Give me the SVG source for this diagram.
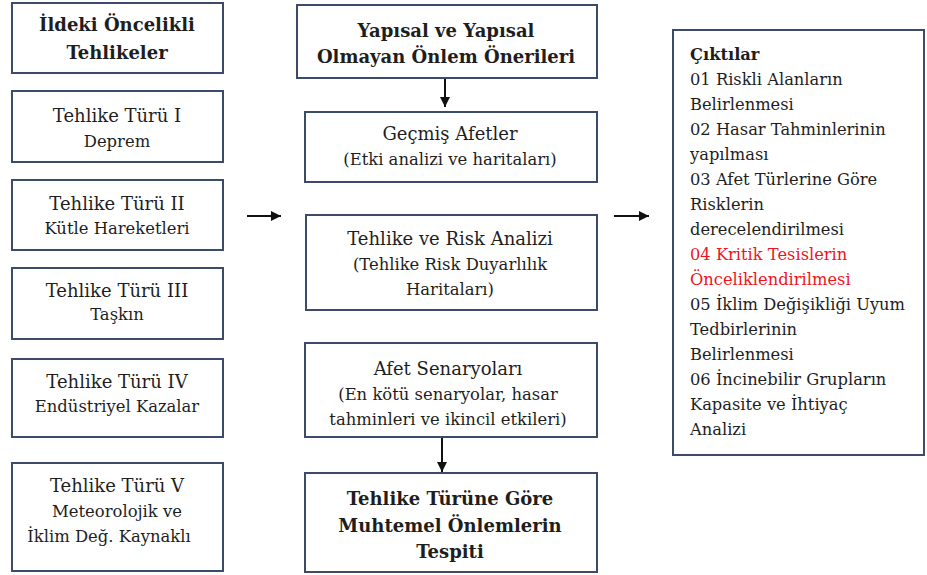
<svg xmlns="http://www.w3.org/2000/svg" width="927" height="575" viewBox="0 0 927 575">
<style>
.box{fill:#fff;stroke:#3d4b6b;stroke-width:2}
text{font-family:"DejaVu Serif","Liberation Serif",serif;fill:#1e1e1e;text-anchor:middle}
.t{font-size:18px}
.s{font-size:16.4px}
.b{font-size:18px;font-weight:bold}
.r{text-anchor:start;font-size:16.3px}
.red{fill:#f0141e}
.c{stroke:#111;stroke-width:2;fill:none}
</style>
<defs>
<marker id="ah" viewBox="0 0 10 10" refX="10" refY="5" markerWidth="5" markerHeight="5" orient="auto" markerUnits="strokeWidth">
<path d="M0,0 L10,5 L0,10 z" fill="#111"/>
</marker>
</defs>
<rect width="927" height="575" fill="#fff"/>
<g id="n_ildeki"><rect class="box" x="12" y="3" width="211" height="70"/>
<text class="b" x="117" y="31">İldeki Öncelikli</text><text class="b" x="117" y="59">Tehlikeler</text></g>
<g id="n_t1"><rect class="box" x="12" y="91" width="211" height="71"/>
<text class="t" x="117" y="122">Tehlike Türü I</text><text class="s" x="117" y="147">Deprem</text></g>
<g id="n_t2"><rect class="box" x="12" y="180" width="211" height="70"/>
<text class="t" x="117" y="210">Tehlike Türü II</text><text class="s" x="117" y="234">Kütle Hareketleri</text></g>
<g id="n_t3"><rect class="box" x="12" y="268" width="211" height="71"/>
<text class="t" x="117" y="297">Tehlike Türü III</text><text class="s" x="117" y="320">Taşkın</text></g>
<g id="n_t4"><rect class="box" x="12" y="359" width="211" height="78"/>
<text class="t" x="117" y="388">Tehlike Türü IV</text><text class="s" x="117" y="412">Endüstriyel Kazalar</text></g>
<g id="n_t5"><rect class="box" x="12" y="463" width="211" height="108"/>
<text class="t" x="117" y="492">Tehlike Türü V</text><text class="s" x="117" y="517">Meteorolojik ve</text><text class="s" x="109" y="542">İklim Değ. Kaynaklı</text></g>

<g id="n_yapisal"><rect class="box" x="297" y="5" width="300" height="73"/>
<text class="b" x="446" y="37">Yapısal ve Yapısal</text><text class="b" x="446" y="63">Olmayan Önlem Önerileri</text></g>
<g id="n_gecmis"><rect class="box" x="305" y="112" width="292" height="70"/>
<text class="t" x="450" y="140">Geçmiş Afetler</text><text class="s" x="450" y="165">(Etki analizi ve haritaları)</text></g>
<g id="n_risk"><rect class="box" x="306" y="215" width="291" height="95"/>
<text class="t" x="450" y="245">Tehlike ve Risk Analizi</text><text class="s" x="450" y="270">(Tehlike Risk Duyarlılık</text><text class="s" x="450" y="295">Haritaları)</text></g>
<g id="n_senaryo"><rect class="box" x="305" y="343" width="292" height="94"/>
<text class="t" x="448" y="375">Afet Senaryoları</text><text class="s" x="448" y="400">(En kötü senaryolar, hasar</text><text class="s" x="448" y="425">tahminleri ve ikincil etkileri)</text></g>
<g id="n_tespit"><rect class="box" x="305" y="473" width="292" height="99"/>
<text class="b" x="450" y="505">Tehlike Türüne Göre</text><text class="b" x="450" y="532">Muhtemel Önlemlerin</text><text class="b" x="450" y="558">Tespiti</text></g>

<g id="n_ciktilar"><rect class="box" x="673" y="30" width="251" height="425"/>
<text class="r" x="690" y="60" font-weight="bold" font-size="17">Çıktılar</text>
<text class="r" x="690" y="85">01 Riskli Alanların</text>
<text class="r" x="690" y="110">Belirlenmesi</text>
<text class="r" x="690" y="135">02 Hasar Tahminlerinin</text>
<text class="r" x="690" y="160">yapılması</text>
<text class="r" x="690" y="185">03 Afet Türlerine Göre</text>
<text class="r" x="690" y="210">Risklerin</text>
<text class="r" x="690" y="235">derecelendirilmesi</text>
<text class="r red" x="690" y="260">04 Kritik Tesislerin</text>
<text class="r red" x="690" y="285">Önceliklendirilmesi</text>
<text class="r" x="690" y="310">05 İklim Değişikliği Uyum</text>
<text class="r" x="690" y="335">Tedbirlerinin</text>
<text class="r" x="690" y="360">Belirlenmesi</text>
<text class="r" x="690" y="385">06 İncinebilir Grupların</text>
<text class="r" x="690" y="410">Kapasite ve İhtiyaç</text>
<text class="r" x="690" y="435">Analizi</text></g>

<g id="connectors">
<line class="c" x1="247" y1="216" x2="281" y2="216" marker-end="url(#ah)"/>
<line class="c" x1="614" y1="216" x2="649" y2="216" marker-end="url(#ah)"/>
<line class="c" x1="445" y1="79" x2="445" y2="107" marker-end="url(#ah)"/>
<line class="c" x1="442" y1="438" x2="442" y2="472" marker-end="url(#ah)"/>
</g>
</svg>
